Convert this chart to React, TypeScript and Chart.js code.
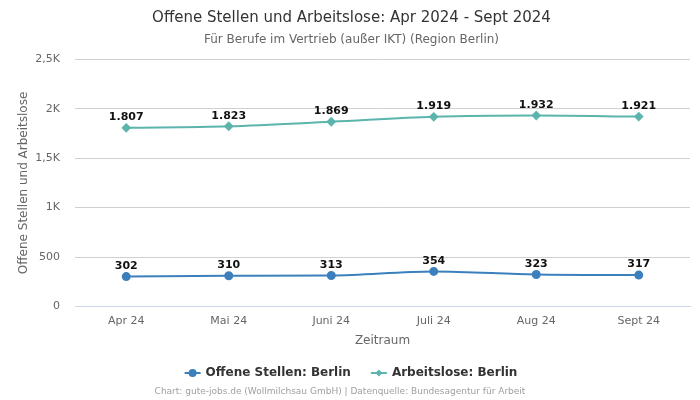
import React, { useEffect, useRef } from "react";
import { Chart, registerables } from "chart.js";

Chart.register(...registerables);

const categories = ["Apr 24", "Mai 24", "Juni 24", "Juli 24", "Aug 24", "Sept 24"];
const offeneStellen = [302, 310, 313, 354, 323, 317];
const arbeitslose = [1807, 1823, 1869, 1919, 1932, 1921];
const yTicks = [0, 500, 1000, 1500, 2000, 2500];

const BLUE = "#3b80bd";
const TEAL = "#5bb5ad";
const FONT = "'DejaVu Sans', sans-serif";

const fmtNum = (v: number) => v.toLocaleString("de-DE");
const fmtTick = (v: number) => {
  if (v >= 1000) return (v / 1000).toLocaleString("de-DE") + "K";
  return String(v);
};

const labelsPlugin = {
  id: "customLabels",
  afterDatasetsDraw(chart: any) {
    const ctx = chart.ctx;
    ctx.save();
    ctx.font = `bold 11px ${FONT}`;
    ctx.fillStyle = "#111";
    ctx.textAlign = "center";
    ctx.textBaseline = "bottom";
    chart.data.datasets.forEach((ds: any, i: number) => {
      const meta = chart.getDatasetMeta(i);
      meta.data.forEach((pt: any, j: number) => {
        ctx.fillText(fmtNum(ds.data[j]), pt.x, pt.y - 5);
      });
    });
    ctx.restore();
  },
  afterDraw(chart: any) {
    const ctx = chart.ctx;
    const w = chart.width;
    ctx.save();
    const items = [
      { text: "Offene Stellen: Berlin", color: BLUE, style: "circle" },
      { text: "Arbeitslose: Berlin", color: TEAL, style: "diamond" },
    ];
    ctx.font = `bold 12px ${FONT}`;
    const lineW = 16;
    const gap = 5;
    const between = 20;
    const widths = items.map((it) => lineW + gap + ctx.measureText(it.text).width);
    const total = widths.reduce((a, b) => a + b, 0) + between;
    let x = w / 2 + 1 - total / 2;
    const y = 373;
    items.forEach((it, i) => {
      ctx.strokeStyle = it.color;
      ctx.fillStyle = it.color;
      ctx.lineWidth = 2;
      ctx.beginPath();
      ctx.moveTo(x, y);
      ctx.lineTo(x + lineW, y);
      ctx.stroke();
      const cx = x + lineW / 2;
      ctx.beginPath();
      if (it.style === "circle") {
        ctx.arc(cx, y, 4, 0, Math.PI * 2);
      } else {
        ctx.moveTo(cx, y - 3.5);
        ctx.lineTo(cx + 3.5, y);
        ctx.lineTo(cx, y + 3.5);
        ctx.lineTo(cx - 3.5, y);
        ctx.closePath();
      }
      ctx.fill();
      ctx.fillStyle = "#333";
      ctx.textAlign = "left";
      ctx.textBaseline = "middle";
      ctx.fillText(it.text, x + lineW + gap, y);
      x += widths[i] + between;
    });
    ctx.font = `9px ${FONT}`;
    ctx.fillStyle = "#a0a0a0";
    ctx.textAlign = "center";
    ctx.textBaseline = "middle";
    ctx.fillText(
      "Chart: gute-jobs.de (Wollmilchsau GmbH) | Datenquelle: Bundesagentur für Arbeit",
      340,
      392
    );
    ctx.restore();
  },
};

export default function App() {
  const ref = useRef<HTMLCanvasElement | null>(null);

  useEffect(() => {
    document.body.style.margin = "0";
    const canvas = ref.current;
    if (!canvas) return;
    const chart = new Chart(canvas, {
      type: "line",
      data: {
        labels: categories,
        datasets: [
          {
            label: "Offene Stellen: Berlin",
            data: offeneStellen,
            borderColor: BLUE,
            backgroundColor: BLUE,
            borderWidth: 2,
            pointStyle: "circle",
            pointRadius: 3.5,
            pointHoverRadius: 3.5,
            cubicInterpolationMode: "monotone",
          },
          {
            label: "Arbeitslose: Berlin",
            data: arbeitslose,
            borderColor: TEAL,
            backgroundColor: TEAL,
            borderWidth: 2,
            pointStyle: "rectRot",
            pointRadius: 3.5,
            pointHoverRadius: 3.5,
            cubicInterpolationMode: "monotone",
          },
        ],
      },
      options: {
        responsive: false,
        animation: false,
        layout: { padding: { left: 13, right: 10, top: 0, bottom: 52 } },
        plugins: {
          legend: { display: false },
          tooltip: { enabled: false },
          title: {
            display: true,
            text: "Offene Stellen und Arbeitslose: Apr 2024 - Sept 2024",
            color: "#333",
            font: { family: FONT, size: 15, weight: "normal" },
            padding: { top: 9, bottom: 4 },
          },
          subtitle: {
            display: true,
            text: "Für Berufe im Vertrieb (außer IKT) (Region Berlin)",
            color: "#666",
            font: { family: FONT, size: 12, weight: "normal" },
            padding: { top: 2, bottom: 12 },
          },
        },
        scales: {
          x: {
            offset: true,
            grid: { display: false, drawTicks: false },
            border: { color: "#ccd6eb" },
            ticks: { color: "#666", font: { family: FONT, size: 11 }, padding: 8 },
            title: {
              display: true,
              text: "Zeitraum",
              color: "#666",
              font: { family: FONT, size: 12 },
              padding: { top: -2, bottom: 0 },
            },
          },
          y: {
            min: 0,
            max: 2500,
            afterBuildTicks: (axis: any) => {
              axis.ticks = yTicks.map((v) => ({ value: v }));
            },
            afterFit: (axis: any) => {
              axis.width = 62;
            },
            grid: { color: "#d0d0d0", drawTicks: false },
            border: { display: false },
            ticks: {
              color: "#666",
              font: { family: FONT, size: 11 },
              padding: 15,
              callback: (v: any) => fmtTick(Number(v)),
            },
            title: {
              display: true,
              text: "Offene Stellen und Arbeitslose",
              color: "#666",
              font: { family: FONT, size: 12 },
              padding: { bottom: 4 },
            },
          },
        },
      },
      plugins: [labelsPlugin],
    } as any);
    return () => chart.destroy();
  }, []);

  return (
    <div style={{ width: 700, height: 400 }}>
      <canvas ref={ref} width={700} height={400} style={{ display: "block" }} />
    </div>
  );
}
